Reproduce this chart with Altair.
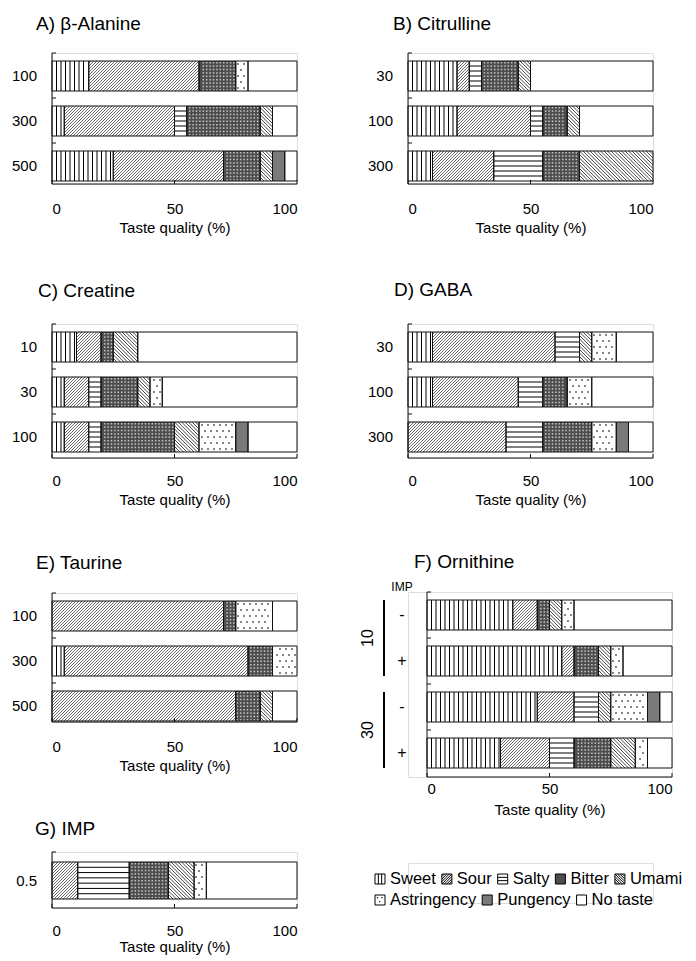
import math
import altair as alt
import pandas as pd

# ---------------- data ----------------
TASTES = ["Sweet", "Sour", "Salty", "Bitter", "Umami", "Astringency", "Pungency", "No taste"]
LEGEND_ROWS = [["Sweet", "Sour", "Salty", "Bitter", "Umami"],
               ["Astringency", "Pungency", "No taste"]]
X_TICKS = [0, 50, 100]
X_TITLE = "Taste quality (%)"

alanine_conc = ["100", "300", "500"]
alanine_vals = [[15, 45, 0, 15, 0, 5, 0, 20],
                [5, 45, 5, 30, 5, 0, 0, 10],
                [25, 45, 0, 15, 5, 0, 5, 5]]
citrulline_conc = ["30", "100", "300"]
citrulline_vals = [[20, 5, 5, 15, 5, 0, 0, 50],
                   [20, 30, 5, 10, 5, 0, 0, 30],
                   [10, 25, 20, 15, 30, 0, 0, 0]]
creatine_conc = ["10", "30", "100"]
creatine_vals = [[10, 10, 0, 5, 10, 0, 0, 65],
                 [5, 10, 5, 15, 5, 5, 0, 55],
                 [5, 10, 5, 30, 10, 15, 5, 20]]
gaba_conc = ["30", "100", "300"]
gaba_vals = [[10, 50, 10, 0, 5, 10, 0, 15],
             [10, 35, 10, 10, 0, 10, 0, 25],
             [0, 40, 15, 20, 0, 10, 5, 10]]
taurine_conc = ["100", "300", "500"]
taurine_vals = [[0, 70, 0, 5, 0, 15, 0, 10],
                [5, 75, 0, 10, 0, 10, 0, 0],
                [0, 75, 0, 10, 5, 0, 0, 10]]
ornithine_conc = ["10", "10", "30", "30"]
ornithine_imp = ["-", "+", "-", "+"]
ornithine_header = "IMP"
ornithine_vals = [[35, 10, 0, 5, 5, 5, 0, 40],
                  [55, 5, 0, 10, 5, 5, 0, 20],
                  [45, 15, 10, 0, 5, 15, 5, 5],
                  [30, 20, 10, 15, 10, 5, 0, 10]]
imp_conc = ["0.5"]
imp_vals = [[0, 10.5, 21, 16, 10.5, 5, 0, 37]]

# ---------------- style ----------------
FONT = "Liberation Sans"
PLOT_W = 245
BITTER_FILL = "#4d4d4d"
PUNGENCY_FILL = "#7a7a7a"
SWEET_GAP, SOUR_GAP, UMAMI_GAP, SALTY_GAP = 4.5, 3.0, 3.5, 5.0
ASTR_GAP, BITTER_GAP = 6.0, 3.4
LEG_FONT = 16.5
TITLE_FONT = 19
# Liberation Sans advance widths (1/1000 em) for legend layout
CHAR_W = {"S": 667, "w": 722, "e": 556, "t": 278, "o": 556, "u": 556, "r": 333, "a": 556,
          "l": 222, "y": 500, "B": 667, "i": 222, "U": 722, "m": 833, "A": 667, "s": 500,
          "n": 556, "g": 556, "c": 500, "P": 667, "N": 722, " ": 278}


def geometry(vals, step, top_off, bar_h):
    ux = PLOT_W / 100.0
    out = {k: [] for k in ["segs", "sweet", "sour", "salty", "umami", "astr", "bitter"]}

    def Y(k, py):
        return k + (top_off + py) / step

    for k, row in enumerate(vals):
        start = 0.0
        for taste, v in zip(TASTES, row):
            if v <= 0:
                continue
            x0, x1 = start, start + v
            start = x1
            out["segs"].append(dict(taste=taste, x0=x0, x1=x1, y0=Y(k, 0), y1=Y(k, bar_h)))
            xa, xb = x0 * ux, x1 * ux
            if taste == "Sweet":
                m = math.floor(xa / SWEET_GAP) + 1
                while m * SWEET_GAP < xb - 0.8:
                    x = m * SWEET_GAP
                    if x > xa + 0.8:
                        out["sweet"].append(dict(x0=x / ux, x1=x / ux, y0=Y(k, 0), y1=Y(k, bar_h)))
                    m += 1
            elif taste == "Salty":
                n = max(1, round(bar_h / SALTY_GAP) - 1)
                g = bar_h / (n + 1)
                for j in range(1, n + 1):
                    out["salty"].append(dict(x0=x0, x1=x1, y0=Y(k, j * g), y1=Y(k, j * g)))
            elif taste == "Sour":
                m = math.floor(xa / SOUR_GAP)
                while m * SOUR_GAP <= xb + bar_h:
                    c = m * SOUR_GAP
                    lo, hi = max(0.0, c - xb), min(bar_h, c - xa)
                    if hi - lo > 0.4:
                        out["sour"].append(dict(x0=(c - lo) / ux, x1=(c - hi) / ux, y0=Y(k, lo), y1=Y(k, hi)))
                    m += 1
            elif taste == "Umami":
                m = math.floor((xa - bar_h) / UMAMI_GAP)
                while m * UMAMI_GAP <= xb:
                    c = m * UMAMI_GAP
                    lo, hi = max(0.0, xa - c), min(bar_h, xb - c)
                    if hi - lo > 0.4:
                        out["umami"].append(dict(x0=(c + lo) / ux, x1=(c + hi) / ux, y0=Y(k, lo), y1=Y(k, hi)))
                    m += 1
            elif taste == "Astringency":
                r = 0
                while 3 + r * ASTR_GAP < bar_h - 1:
                    py = 3 + r * ASTR_GAP
                    off = (r % 2) * ASTR_GAP / 2
                    m = math.floor(xa / ASTR_GAP) - 1
                    while m * ASTR_GAP + off < xb:
                        x = m * ASTR_GAP + off
                        if xa + 1.8 < x < xb - 1.8:
                            out["astr"].append(dict(x0=x / ux, y0=Y(k, py)))
                        m += 1
                    r += 1
            elif taste == "Bitter":
                r = 0
                while 1.7 + r * BITTER_GAP < bar_h - 1:
                    py = 1.7 + r * BITTER_GAP
                    m = math.floor(xa / BITTER_GAP)
                    while m * BITTER_GAP < xb:
                        x = m * BITTER_GAP + 1.7
                        if xa + 1.2 < x < xb - 1.2:
                            out["bitter"].append(dict(x0=x / ux, y0=Y(k, py)))
                        m += 1
                    r += 1
    return {k: pd.DataFrame(v) for k, v in out.items()}


def square_path(extra=""):
    return "M-1,-1H1V1H-1Z" + extra


def diag_path(sign):
    parts = []
    for i in range(-3, 4):
        c = i * 0.5
        if sign > 0:  # "/" : x + y = c
            pts = [(x, c - x) for x in (-1, 1)]
        else:  # "\" : x - y = c
            pts = [(x, x - c) for x in (-1, 1)]
        (ax, ay), (bx, by) = pts
        seg = []
        for t in [i2 / 200 for i2 in range(201)]:
            x = ax + (bx - ax) * t
            y = ay + (by - ay) * t
            if -1 <= x <= 1 and -1 <= y <= 1:
                seg.append((x, y))
        if len(seg) >= 2:
            parts.append("M%.2f,%.2fL%.2f,%.2f" % (seg[0][0], seg[0][1], seg[-1][0], seg[-1][1]))
    return square_path("".join(parts))


LEGEND_SHAPES = [
    square_path("M-0.33,-1V1M0.33,-1V1"),
    diag_path(1),
    square_path("M-1,-0.33H1M-1,0.33H1"),
    square_path(),
    diag_path(-1),
    square_path("M-0.55,-0.5h0.1v0.1h-0.1ZM0.35,-0.5h0.1v0.1h-0.1ZM-0.1,0.3h0.1v0.1h-0.1Z"),
    square_path(),
    square_path(),
]
LEGEND_FILLS = ["white", "white", "white", BITTER_FILL, "white", "white", PUNGENCY_FILL, "white"]


def panel(title, title_dx, title_gap, conc, vals, step, top_off, bar_h, plot_h,
          label_pad, title_pad, x_off=0, imp=None):
    n = len(vals)
    ymax = plot_h / step
    g = geometry(vals, step, top_off, bar_h)
    xscale = alt.Scale(domain=[0, 100], nice=False, zero=False,
                       range=[x_off, x_off + PLOT_W]) if x_off else alt.Scale(domain=[0, 100], nice=False)
    yscale = alt.Scale(domain=[0, ymax], nice=False, zero=False, reverse=True)
    xaxis = alt.Axis(values=X_TICKS, ticks=False, domain=False, grid=False, labelFontSize=15,
                     labelPadding=label_pad, labelColor="black", title=X_TITLE, titleFontSize=15,
                     titleFontWeight="normal", titleColor="black", titlePadding=title_pad,
                     labelFont=FONT, titleFont=FONT)

    def X(f):
        return alt.X(f + ":Q", scale=xscale, axis=xaxis)

    def Yc(f):
        return alt.Y(f + ":Q", scale=yscale, axis=None)

    layers = []
    segs = g["segs"]
    layers.append(alt.Chart(segs).mark_rect(fill="white", strokeWidth=0).encode(
        x=X("x0"), x2="x1", y=Yc("y0"), y2="y1"))
    for taste, col in [("Bitter", BITTER_FILL), ("Pungency", PUNGENCY_FILL)]:
        sub = segs[segs.taste == taste]
        if len(sub):
            layers.append(alt.Chart(sub).mark_rect(fill=col, strokeWidth=0).encode(
                x=X("x0"), x2="x1", y=Yc("y0"), y2="y1"))
    if len(g["bitter"]):
        layers.append(alt.Chart(g["bitter"]).mark_square(size=2.4, color="#c4c4c4", opacity=1).encode(
            x=X("x0"), y=Yc("y0")))
    for key, col, w in [("sweet", "black", 1.0), ("salty", "black", 1.0),
                        ("sour", "#2a2a2a", 0.7), ("umami", "#1a1a1a", 0.8)]:
        if len(g[key]):
            layers.append(alt.Chart(g[key]).mark_rule(color=col, strokeWidth=w).encode(
                x=X("x0"), x2="x1", y=Yc("y0"), y2="y1"))
    if len(g["astr"]):
        layers.append(alt.Chart(g["astr"]).mark_square(size=1.6, color="black", opacity=1).encode(
            x=X("x0"), y=Yc("y0")))
    layers.append(alt.Chart(segs).mark_rect(fillOpacity=0, stroke="#111111", strokeWidth=1).encode(
        x=X("x0"), x2="x1", y=Yc("y0"), y2="y1"))

    # axis lines and inward ticks
    ax_rows = [dict(x0=0, x1=0, y0=0, y1=ymax), dict(x0=0, x1=100, y0=ymax, y1=ymax)]
    ax_rows += [dict(x0=0, x1=4 / (PLOT_W / 100), y0=k, y1=k) for k in range(n)]
    ax_rows += [dict(x0=t, x1=t, y0=ymax, y1=ymax - 4 / step) for t in X_TICKS]
    layers.append(alt.Chart(pd.DataFrame(ax_rows)).mark_rule(color="#111111", strokeWidth=1).encode(
        x=X("x0"), x2="x1", y=Yc("y0"), y2="y1"))

    centers = [k + (top_off + bar_h / 2) / step for k in range(n)]
    if imp is None:
        lab = pd.DataFrame(dict(yc=centers, label=conc))
        layers.append(alt.Chart(lab).mark_text(align="right", baseline="middle", fontSize=15,
                                               font=FONT, color="black").encode(
            x=alt.value(x_off - 15), y=Yc("yc"), text="label:N"))
    else:
        lab = pd.DataFrame(dict(yc=centers, label=imp))
        layers.append(alt.Chart(lab).mark_text(align="center", baseline="middle", fontSize=16,
                                               font=FONT, color="black").encode(
            x=alt.value(x_off - 25), y=Yc("yc"), text="label:N"))
        grp = []
        for c in dict.fromkeys(conc):
            ks = [k for k in range(n) if conc[k] == c]
            grp.append(dict(label=c, y0=ks[0] + top_off / step, y1=ks[-1] + (top_off + bar_h) / step,
                            yc=(ks[0] + ks[-1] + 1) / 2 + (top_off + bar_h / 2 - step / 2) / step))
        grp = pd.DataFrame(grp)
        layers.append(alt.Chart(grp).mark_rule(color="black", strokeWidth=2).encode(
            x=alt.value(x_off - 43), y=Yc("y0"), y2="y1"))
        layers.append(alt.Chart(grp).mark_text(angle=270, align="center", baseline="middle",
                                               fontSize=16, font=FONT, color="black").encode(
            x=alt.value(x_off - 59), y=Yc("yc"), text="label:N"))
        hdr = pd.DataFrame(dict(label=[ornithine_header]))
        layers.append(alt.Chart(hdr).mark_text(align="center", baseline="middle", fontSize=12,
                                               font=FONT, color="black").encode(
            x=alt.value(x_off - 25), y=alt.value(-5), text="label:N"))

    # panel title as a text mark above the plot
    ttl = pd.DataFrame(dict(label=[title]))
    layers.append(alt.Chart(ttl).mark_text(align="left", baseline="top", fontSize=TITLE_FONT,
                                           font=FONT, color="black").encode(
        x=alt.value(title_dx), y=alt.value(-(title_gap + 8.2)), text="label:N"))

    return alt.layer(*layers).properties(width=PLOT_W + x_off, height=plot_h)


def legend_chart(x_start, row_y, row_gap, item_gap):
    rows = []
    for r, names in enumerate(LEGEND_ROWS):
        x = x_start
        for name in names:
            tw = sum(CHAR_W.get(ch, 556) for ch in name) / 1000 * LEG_FONT
            rows.append(dict(taste=name, sx=x + 5, tx=x + 15, py=row_y + r * row_gap))
            x = x + 15 + tw + item_gap
    df = pd.DataFrame(rows)
    sym = alt.Chart(df).mark_point(filled=True, size=100, stroke="black", strokeWidth=1, opacity=1).encode(
        x=alt.X("sx:Q", scale=None, axis=None), y=alt.Y("py:Q", scale=None, axis=None),
        fill=alt.Fill("taste:N", scale=alt.Scale(domain=TASTES, range=LEGEND_FILLS), legend=None),
        shape=alt.Shape("taste:N", scale=alt.Scale(domain=TASTES, range=LEGEND_SHAPES), legend=None))
    txt = alt.Chart(df).mark_text(align="left", baseline="middle", fontSize=LEG_FONT, font=FONT,
                                  color="black").encode(
        x=alt.X("tx:Q", scale=None, axis=None), y=alt.Y("py:Q", scale=None, axis=None), text="taste:N")
    return alt.layer(sym, txt).properties(width=PLOT_W, height=40)


A = panel("A) β-Alanine", -16, 30, alanine_conc, alanine_vals, 45, 8, 30, 131, 17, 4)
B = panel("B) Citrulline", -15, 30, citrulline_conc, citrulline_vals, 45, 8, 30, 131, 17, 4)
C = panel("C) Creatine", -14, 34, creatine_conc, creatine_vals, 45, 8, 30, 134, 15, 4)
D = panel("D) GABA", -14, 35, gaba_conc, gaba_vals, 45, 8, 30, 134, 15, 4)
E = panel("E) Taurine", -16, 31, taurine_conc, taurine_vals, 45, 8, 30, 129, 17, 4)
F = panel("F) Ornithine", 6, 31, ornithine_conc, ornithine_vals, 46, 8, 30, 185, 4, 6,
          x_off=19, imp=ornithine_imp)
G = panel("G) IMP", -17, 24, imp_conc, imp_vals, 56, 10, 37, 56, 15, 1)
L = legend_chart(-33, 16, 21, 6)

left = alt.vconcat(A, C, E, G, spacing=45)
right = alt.vconcat(B, D, F, L, spacing=44)
chart = alt.hconcat(left, right, spacing=61).properties(
    padding={"left": 3, "top": 6, "right": 0, "bottom": 0}
).configure_view(stroke=None).configure(font=FONT)

chart.save("out.html", embed_options={"renderer": "svg", "actions": False})
